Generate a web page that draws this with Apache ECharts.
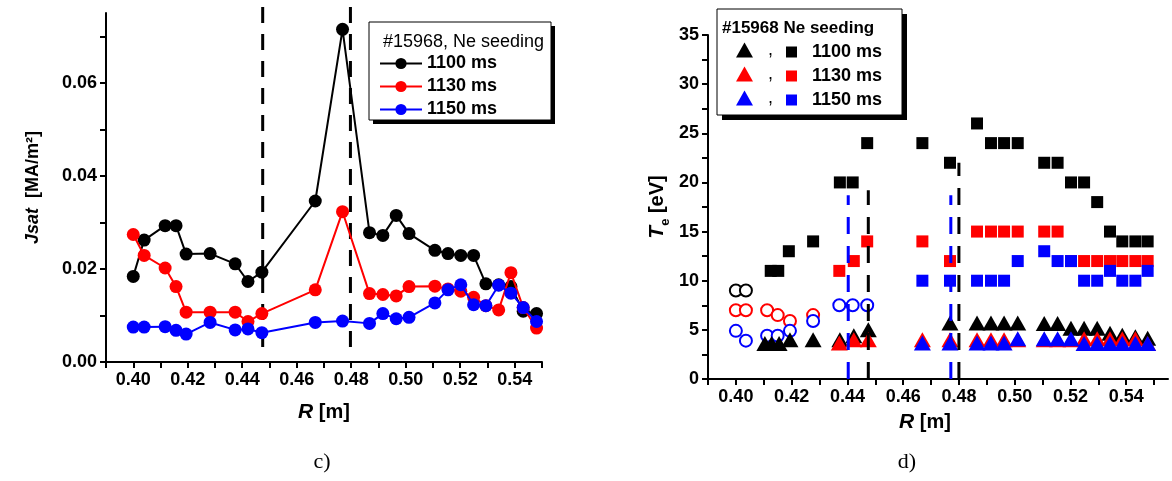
<!DOCTYPE html>
<html><head><meta charset="utf-8">
<script src="https://cdn.jsdelivr.net/npm/echarts@6/dist/echarts.min.js"></script>
<style>html,body{margin:0;padding:0;background:#fff}#c{width:1172px;height:481px}</style>
</head><body><div id="c"></div>
<script>
// ---------- Panel c) : Jsat vs R ----------
const rJsat = [0.400,0.404,0.4117,0.4157,0.4194,0.4282,0.4374,0.4421,0.4472,0.4668,0.4768,0.4867,0.4916,0.4965,0.5012,0.5107,0.5155,0.5202,0.5249,0.5294,0.5341,0.5386,0.5431,0.548];
const jsat1100 = [0.0184,0.0262,0.0293,0.0293,0.0232,0.0233,0.0211,0.0173,0.0193,0.0346,0.0715,0.0278,0.0272,0.0315,0.0276,0.0240,0.0233,0.0229,0.0229,0.0168,0.0166,0.0162,0.0109,0.0104];
const jsat1130 = [0.0274,0.0229,0.0202,0.0162,0.0107,0.0107,0.0107,0.0087,0.0104,0.0155,0.0323,0.0147,0.0145,0.0142,0.0162,0.0163,0.0157,0.0152,0.0139,0.0121,0.0112,0.0192,0.0117,0.0073];
const jsat1150 = [0.0075,0.0075,0.0076,0.0068,0.0060,0.0085,0.0069,0.0071,0.0063,0.0085,0.0088,0.0083,0.0104,0.0093,0.0096,0.0127,0.0155,0.0166,0.0123,0.0121,0.0165,0.0148,0.0117,0.0087];
const dashLeftX = [0.4475, 0.4797];
const dashLeftY = [0.0032, 0.0785];
const xTicksC = [0.39,0.40,0.41,0.42,0.43,0.44,0.45,0.46,0.47,0.48,0.49,0.50,0.51,0.52,0.53,0.54,0.55];
const xLabelsC = [0.40,0.42,0.44,0.46,0.48,0.50,0.52,0.54];
const yTicksC = [0,0.01,0.02,0.03,0.04,0.05,0.06,0.07];
const yLabelsC = [0,0.02,0.04,0.06];

// ---------- Panel d) : Te vs R ----------
const rSqBlack = [0.4125,0.4152,0.419,0.4277,0.4373,0.4419,0.4471,0.4669,0.4768,0.4865,0.4915,0.4962,0.5011,0.5106,0.5154,0.5202,0.5249,0.5296,0.5342,0.5386,0.5433,0.5477];
const teSqBlack = [11,11,13,14,20,20,24,24,22,26,24,24,24,22,22,20,20,18,15,14,14,14];
const rSqRed = [0.4371,0.4423,0.4471,0.4669,0.4768,0.4865,0.4915,0.4962,0.5011,0.5106,0.5154,0.5202,0.5249,0.5296,0.5342,0.5386,0.5433,0.5477];
const teSqRed = [11,12,14,14,12,15,15,15,15,15,15,12,12,12,12,12,12,12];
const rSqBlue = [0.4669,0.4768,0.4865,0.4915,0.4962,0.5011,0.5106,0.5154,0.5202,0.5249,0.5296,0.5342,0.5386,0.5433,0.5477];
const teSqBlue = [10,10,10,10,10,12,13,12,12,10,10,11,10,10,11];
const rTriBlack = [0.4104,0.4128,0.4155,0.4194,0.4277,0.4373,0.4423,0.4475,0.4768,0.4865,0.4915,0.4962,0.5011,0.5106,0.5154,0.5202,0.5249,0.5296,0.5342,0.5386,0.5433,0.5477];
const teTriBlack = [3.6,3.6,3.6,4.0,4.0,4.0,4.4,5.0,5.7,5.7,5.7,5.7,5.7,5.65,5.65,5.17,5.17,5.17,4.66,4.45,4.3,4.15];
const rTriRed = [0.4371,0.4423,0.4475,0.4669,0.4768,0.4865,0.4915,0.4962,0.5011,0.5106,0.5154,0.5202,0.5249,0.5296,0.5342,0.5386,0.5433,0.5477];
const teTriRed = [3.66,4.0,4.0,4.0,4.0,4.0,4.0,4.0,4.0,4.0,4.0,4.0,4.1,4.1,4.1,4.1,4.1,3.6];
const rTriBlue = [0.4669,0.4768,0.4865,0.4915,0.4962,0.5011,0.5106,0.5154,0.5202,0.5249,0.5296,0.5342,0.5386,0.5433,0.5477];
const teTriBlue = [3.66,3.66,3.66,3.66,3.66,4.1,4.1,4.1,4.1,3.6,3.6,3.6,3.6,3.6,3.6];
const rCircBlack = [0.400,0.4036];
const teCircBlack = [9,9];
const rCircRed = [0.400,0.4036,0.4112,0.415,0.4194,0.4277];
const teCircRed = [7,7,7,6.5,5.9,6.5];
const rCircBlue = [0.400,0.4036,0.4112,0.415,0.4194,0.4277,0.4371,0.4419,0.4471];
const teCircBlue = [4.9,3.9,4.4,4.4,4.9,5.9,7.5,7.5,7.5];
const dashBlackX = [0.4475, 0.4800];
const dashBlackTop = [19.2, 22];
const dashBlueX = [0.4403, 0.4771];
const dashBlueTop = [18.7, 18.7];
const xTicksD = xTicksC;
const xLabelsD = xLabelsC;
const yTicksD = [0,2.5,5,7.5,10,12.5,15,17.5,20,22.5,25,27.5,30,32.5,35];
const yLabelsD = [0,5,10,15,20,25,30,35];

const timeNames = ['1100 ms','1130 ms','1150 ms'];
const colors = ['#000000','#ff0000','#0000ff'];

// ---------- build ----------
const FONT = '"Liberation Sans", Arial, Helvetica, sans-serif';
const pairs = (xs, ys) => xs.map((x, i) => [x, ys[i]]);
const lbl = {fontFamily: FONT, fontWeight: 'bold', fontSize: 18, color: '#000'};

function xAxisDef(gi, max, ticks, labels, nameGap, namePad) {
  return {
    gridIndex: gi, type: 'value', min: 0.39, max: max,
    axisLine: {show: true, onZero: false, lineStyle: {color: '#000', width: 2}},
    axisTick: {show: true, length: 6, lineStyle: {width: 2, color: '#000'}, customValues: ticks},
    axisLabel: Object.assign({margin: 9, customValues: labels, formatter: v => v.toFixed(2)}, lbl),
    splitLine: {show: false},
    name: '{i|R}{b| [m]}', nameLocation: 'middle', nameGap: nameGap,
    nameTextStyle: {padding: namePad, rich: {
      i: {fontFamily: FONT, fontWeight: 'bold', fontStyle: 'italic', fontSize: 21, color: '#000'},
      b: {fontFamily: FONT, fontWeight: 'bold', fontSize: 20, color: '#000'}}}
  };
}
function yAxisDef(gi, max, ticks, labels, fmt, name, nameGap, rich) {
  return {
    gridIndex: gi, type: 'value', min: 0, max: max,
    axisLine: {show: true, onZero: false, lineStyle: {color: '#000', width: 2}},
    axisTick: {show: true, length: 6, lineStyle: {width: 2, color: '#000'}, customValues: ticks},
    axisLabel: Object.assign({margin: 9, customValues: labels, formatter: fmt}, lbl),
    splitLine: {show: false},
    name: name, nameLocation: 'middle', nameGap: nameGap,
    nameTextStyle: {rich: rich}
  };
}

const series = [];
[jsat1100, jsat1130, jsat1150].forEach((ys, k) => {
  series.push({
    name: timeNames[k], type: 'line', xAxisIndex: 0, yAxisIndex: 0,
    data: pairs(rJsat, ys), symbol: 'circle', symbolSize: 13,
    itemStyle: {color: colors[k]}, lineStyle: {color: colors[k], width: 2}, z: 3 + k
  });
});
dashLeftX.forEach((x, i) => {
  series.push({
    type: 'line', xAxisIndex: 0, yAxisIndex: 0, clip: false, silent: true, symbol: 'none',
    data: [[x, dashLeftY[0]], [x, dashLeftY[1]]],
    lineStyle: {color: '#000', width: 3, type: [16, 11]}, z: 2
  });
});
// right panel
const sqX = [rSqBlack, rSqRed, rSqBlue], sqY = [teSqBlack, teSqRed, teSqBlue];
const trX = [rTriBlack, rTriRed, rTriBlue], trY = [teTriBlack, teTriRed, teTriBlue];
const ciX = [rCircBlack, rCircRed, rCircBlue], ciY = [teCircBlack, teCircRed, teCircBlue];
for (let k = 0; k < 3; k++) {
  series.push({name: 'sq' + k, type: 'scatter', xAxisIndex: 1, yAxisIndex: 1,
    data: pairs(sqX[k], sqY[k]), symbol: 'rect', symbolSize: 12,
    itemStyle: {color: colors[k], opacity: 1}, z: 3 + k});
}
for (let k = 0; k < 3; k++) {
  series.push({name: 'tri' + k, type: 'scatter', xAxisIndex: 1, yAxisIndex: 1,
    data: pairs(trX[k], trY[k]), symbol: 'triangle', symbolSize: [17, 15],
    itemStyle: {color: colors[k], opacity: 1}, z: 6 + k});
}
for (let k = 0; k < 3; k++) {
  series.push({type: 'scatter', xAxisIndex: 1, yAxisIndex: 1,
    data: pairs(ciX[k], ciY[k]), symbol: 'emptyCircle', symbolSize: 12,
    itemStyle: {color: colors[k], borderColor: colors[k], borderWidth: 1.4, opacity: 1}, z: 3});
}
[[dashBlueX, dashBlueTop, '#0000ff'], [dashBlackX, dashBlackTop, '#000000']].forEach(([xs, tops, c]) => {
  xs.forEach((x, i) => {
    series.push({type: 'line', xAxisIndex: 1, yAxisIndex: 1, clip: false, silent: true, symbol: 'none',
      data: [[x, 0], [x, tops[i]]], lineStyle: {color: c, width: 3, type: [17, 12]}, z: 10});
  });
});

const option = {
  animation: false,
  backgroundColor: '#fff',
  grid: [
    {left: 106, top: 13, width: 436, height: 349, containLabel: false},
    {left: 708, top: 35, width: 460, height: 344, containLabel: false}
  ],
  xAxis: [
    xAxisDef(0, 0.55, xTicksC, xLabelsC, 40, [0, 0, 0, 0]),
    xAxisDef(1, 0.555, xTicksD, xLabelsD, 33, [0, 26, 0, 0])
  ],
  yAxis: [
    yAxisDef(0, 0.075, yTicksC, yLabelsC, v => v.toFixed(2), '{i|Jsat}{b|  [MA/m²]}', 64, {
      i: {fontFamily: FONT, fontWeight: 'bold', fontStyle: 'italic', fontSize: 18, color: '#000'},
      b: {fontFamily: FONT, fontWeight: 'bold', fontSize: 18, color: '#000'}}),
    yAxisDef(1, 35, yTicksD, yLabelsD, v => String(v), '{t|T}{s|e}{b| [eV]}', 36, {
      t: {fontFamily: FONT, fontWeight: 'bold', fontStyle: 'italic', fontSize: 21, color: '#000', lineHeight: 30, verticalAlign: 'middle'},
      s: {fontFamily: FONT, fontWeight: 'bold', fontSize: 13, color: '#000', lineHeight: 10, verticalAlign: 'bottom'},
      b: {fontFamily: FONT, fontWeight: 'bold', fontSize: 20, color: '#000', lineHeight: 30, verticalAlign: 'middle'}})
  ],
  legend: [
    {left: 379, top: 54, orient: 'vertical', itemWidth: 42, itemHeight: 14, itemGap: 4, padding: 0,
      selectedMode: false, data: timeNames, textStyle: Object.assign({lineHeight: 19}, lbl), z: 20},
    {left: 736, top: 41, orient: 'vertical', itemWidth: 17, itemHeight: 15, itemGap: 6, padding: 0,
      selectedMode: false, data: ['tri0', 'tri1', 'tri2'].map(n => ({name: n, icon: 'triangle'})),
      formatter: () => '  ,', textStyle: Object.assign({lineHeight: 18}, lbl, {fontWeight: 'normal', fontSize: 18}), z: 20},
    {left: 786, top: 43, orient: 'vertical', itemWidth: 11, itemHeight: 11, itemGap: 6, padding: 0,
      selectedMode: false, data: ['sq0', 'sq1', 'sq2'].map(n => ({name: n, icon: 'rect'})),
      formatter: n => '  ' + timeNames[+n.slice(2)], textStyle: Object.assign({lineHeight: 18}, lbl), z: 20}
  ],
  graphic: [
    {type: 'rect', z: 14, shape: {x: 373, y: 26, width: 182, height: 98}, style: {fill: '#000'}},
    {type: 'rect', z: 15, shape: {x: 369, y: 22, width: 182, height: 98},
      style: {fill: '#fff', stroke: '#000', lineWidth: 1}},
    {type: 'text', z: 16, x: 383, y: 42, style: {text: '#15968, Ne seeding', font: '18px ' + FONT, fill: '#000', verticalAlign: 'middle'}},
    {type: 'rect', z: 14, shape: {x: 722, y: 14, width: 185, height: 106}, style: {fill: '#000'}},
    {type: 'rect', z: 15, shape: {x: 717, y: 9, width: 185, height: 106},
      style: {fill: '#fff', stroke: '#000', lineWidth: 1}},
    {type: 'text', z: 16, x: 722, y: 28, style: {text: '#15968 Ne seeding', font: 'bold 17px ' + FONT, fill: '#000', verticalAlign: 'middle'}},
    {type: 'text', z: 16, x: 322, y: 462, style: {text: 'c)', font: '22px "Liberation Serif", "Times New Roman", serif', fill: '#000', align: 'center', verticalAlign: 'middle'}},
    {type: 'text', z: 16, x: 907, y: 462, style: {text: 'd)', font: '22px "Liberation Serif", "Times New Roman", serif', fill: '#000', align: 'center', verticalAlign: 'middle'}}
  ],
  series: series
};
const chart = echarts.init(document.getElementById('c'));
chart.setOption(option);
</script></body></html>
